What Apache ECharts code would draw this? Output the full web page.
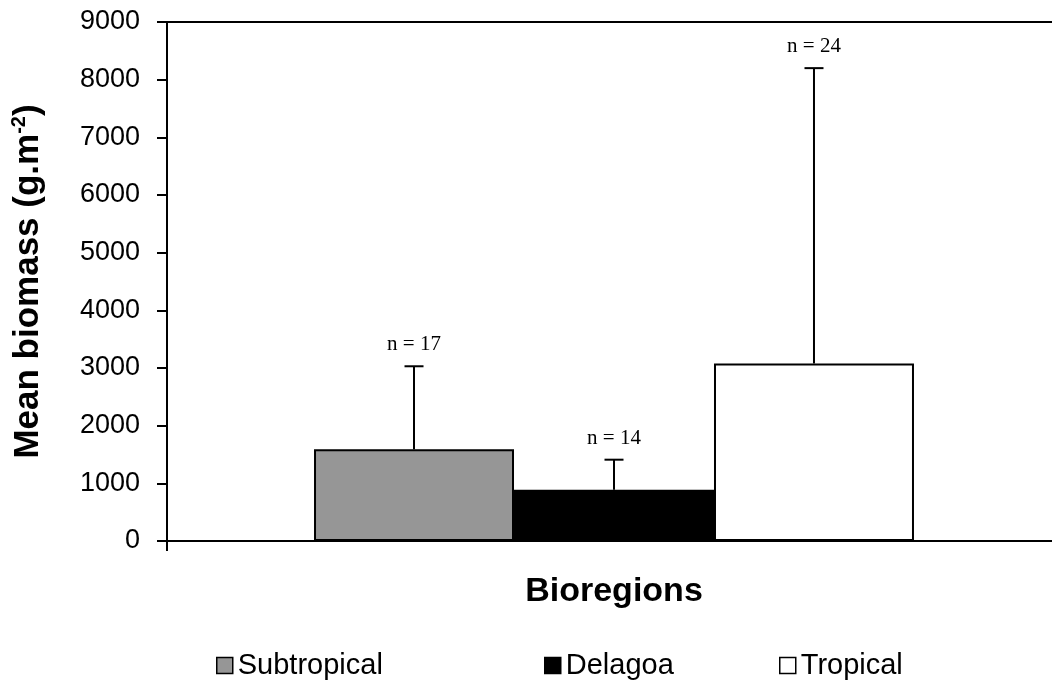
<!DOCTYPE html>
<html>
<head>
<meta charset="utf-8">
<script src="https://cdn.jsdelivr.net/npm/echarts@6/dist/echarts.min.js"></script>
<style>
  html, body { margin: 0; padding: 0; background: #ffffff; }
  #chart { width: 1052px; height: 684px; }
</style>
</head>
<body>
<div id="chart"></div>
<script>
// Mean biomass per bioregion, with upward standard-deviation whiskers
const regions = ['Subtropical', 'Delagoa', 'Tropical'];
const meanBiomass = [1590, 890, 3080];
const sdBiomass = [1440, 520, 5120];
const sampleSizes = [17, 14, 24];
const yTicks = [0, 1000, 2000, 3000, 4000, 5000, 6000, 7000, 8000, 9000];
const categories = ['Bioregions'];

const fills = ['#969696', '#000000', '#ffffff'];
const BAR_FRACTION = 0.2237;
const SANS = '"Liberation Sans", Arial, sans-serif';

const chart = echarts.init(document.getElementById('chart'), null, { renderer: 'canvas' });

const barSeries = regions.map((name, i) => ({
  name: name,
  type: 'bar',
  barWidth: (BAR_FRACTION * 100) + '%',
  barGap: '0%',
  data: [meanBiomass[i]],
  itemStyle: { color: fills[i], borderColor: '#000000', borderWidth: 2 },
  emphasis: { disabled: true },
  z: 2
}));

const errorSeries = {
  type: 'custom',
  name: 'sd',
  data: regions.map((r, i) => [0, meanBiomass[i], meanBiomass[i] + sdBiomass[i], i]),
  encode: { x: 0, y: 2 },
  z: 5,
  silent: true,
  renderItem: function (params, api) {
    const i = api.value(3);
    const base = api.coord([0, api.value(1)]);
    const top = api.coord([0, api.value(2)]);
    const bandW = api.size([1, 0])[0];
    const bw = bandW * BAR_FRACTION;
    const cx = base[0] + (i - (regions.length - 1) / 2) * bw;
    const half = 9.5;
    return {
      type: 'group',
      children: [
        { type: 'line', shape: { x1: cx, y1: base[1], x2: cx, y2: top[1] },
          style: { stroke: '#000', lineWidth: 2 } },
        { type: 'line', shape: { x1: cx - half, y1: top[1], x2: cx + half, y2: top[1] },
          style: { stroke: '#000', lineWidth: 2 } },
        { type: 'text', x: cx, y: top[1] - 11,
          style: { text: 'n = ' + sampleSizes[i], fill: '#000',
                   font: '21px "Liberation Serif", "Times New Roman", serif',
                   align: 'center', verticalAlign: 'bottom' } }
      ]
    };
  }
};

// one legend block per bioregion so each entry sits in its own slot
const legendLeft = [211, 539, 774];
const legends = regions.map((name, i) => ({
  data: [name],
  top: 646,
  left: legendLeft[i],
  icon: 'rect',
  itemWidth: 16,
  itemHeight: 16,
  itemGap: 0,
  selectedMode: false,
  textStyle: { fontFamily: SANS, fontSize: 29, color: '#000', padding: [0, 0, 0, 0] },
  itemStyle: { borderColor: '#000', borderWidth: 1.5 }
}));

chart.setOption({
  animation: false,
  backgroundColor: '#ffffff',
  grid: { left: 167, width: 894, top: 22, bottom: 143, containLabel: false, outerBoundsMode: 'none' },
  legend: legends,
  xAxis: [{
    type: 'category',
    data: categories,
    boundaryGap: true,
    name: 'Bioregions',
    nameLocation: 'middle',
    nameGap: 34,
    nameTextStyle: { fontFamily: SANS, fontSize: 34, fontWeight: 'bold', color: '#000' },
    axisLine: { lineStyle: { color: '#000', width: 2 } },
    axisTick: { show: true, inside: false, length: 10, lineStyle: { color: '#000', width: 2 } },
    axisLabel: { show: false },
    splitLine: { show: false }
  }, {
    type: 'category',
    data: categories,
    position: 'top',
    axisLine: { show: true, lineStyle: { color: '#000', width: 2 } },
    axisTick: { show: false },
    axisLabel: { show: false },
    splitLine: { show: false }
  }],
  yAxis: {
    type: 'value',
    min: yTicks[0],
    max: yTicks[yTicks.length - 1],
    interval: 1000,
    name: '{a|Mean biomass (g.m}{s|-2}{a|)}',
    nameLocation: 'middle',
    nameRotate: 90,
    nameGap: 120,
    nameTextStyle: {
      rich: {
        a: { fontFamily: SANS, fontSize: 35, fontWeight: 'bold', color: '#000', lineHeight: 38 },
        s: { fontFamily: SANS, fontSize: 20, fontWeight: 'bold', color: '#000', verticalAlign: 'top', lineHeight: 38, padding: [0, 0, 16, 0] }
      }
    },
    axisLine: { show: true, lineStyle: { color: '#000', width: 2 } },
    axisTick: { show: true, inside: false, length: 10, lineStyle: { color: '#000', width: 2 } },
    axisLabel: {
      margin: 27,
      fontFamily: SANS,
      fontSize: 27,
      color: '#000',
      formatter: v => String(v)
    },
    splitLine: { show: false }
  },
  series: barSeries.concat([errorSeries])
});
</script>
</body>
</html>
